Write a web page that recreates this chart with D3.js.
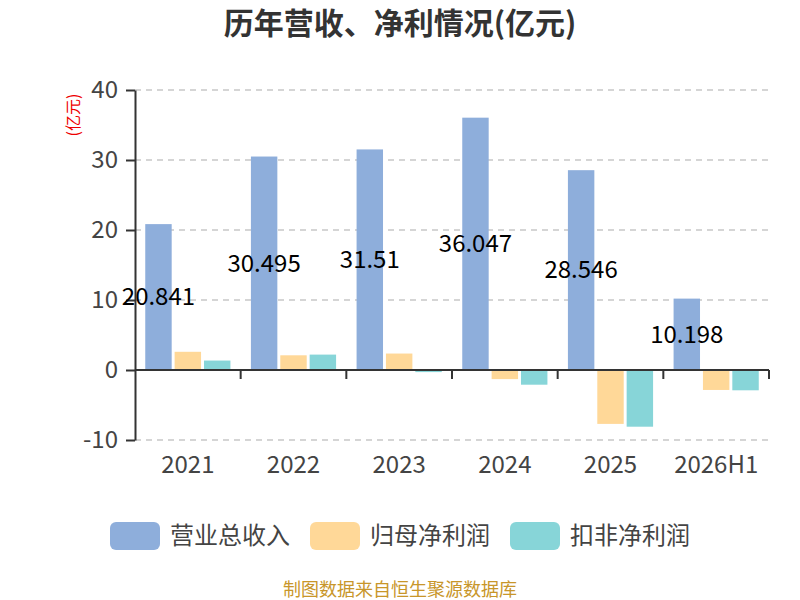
<!DOCTYPE html>
<html><head><meta charset="utf-8">
<script src="https://cdn.jsdelivr.net/npm/d3@7"></script>
<style>body{margin:0;background:#fff}svg{display:block}text{font-family:"Noto Sans CJK SC","Noto Sans",sans-serif}</style>
</head><body><svg id="c" width="800" height="600"></svg>
<script>
const categories = ["2021","2022","2023","2024","2025","2026H1"];
const seriesNames = ["营业总收入","归母净利润","扣非净利润"];
const revenue = [20.841, 30.495, 31.51, 36.047, 28.546, 10.198];
const netProfit = [2.6, 2.1, 2.35, -1.3, -7.7, -2.85];
const deductedProfit = [1.35, 2.2, -0.3, -2.1, -8.1, -2.9];
const yTicks = [-10, 0, 10, 20, 30, 40];
const colors = ["#8eaedb","#ffd898","#87d5d8"];

const svg = d3.select("#c");
const L = 135, R = 769, T = 90, B = 440;
const y = d3.scaleLinear().domain([-10, 40]).range([B, T]);
const x = d3.scaleBand().domain(categories).range([L, R]).paddingInner(0).paddingOuter(0);
const bw = x.bandwidth();
const inner = d3.scaleBand().domain(seriesNames).range([bw*0.097, bw*0.903]).paddingInner(0.1);
const numFont = "\"Noto Sans\",sans-serif";

svg.append("text").attr("x", 400).attr("y", 34).attr("text-anchor","middle")
  .attr("font-size", 30).attr("font-weight","bold").attr("fill","#333").text("历年营收、净利情况(亿元)");

// grid
svg.append("g").selectAll("line").data(yTicks.filter(d=>d!==0)).join("line")
  .attr("x1", L).attr("x2", R).attr("y1", d=>y(d)).attr("y2", d=>y(d))
  .attr("stroke","#c8c8c8").attr("stroke-width",1.5).attr("stroke-dasharray","6,5");

// y axis
const yAxis = svg.append("g").attr("transform",`translate(${L},0)`)
  .call(d3.axisLeft(y).tickValues(yTicks).tickFormat(d=>String(d)).tickSize(9).tickPadding(8).tickSizeOuter(0));
yAxis.select(".domain").attr("stroke","#333").attr("stroke-width",2);
yAxis.selectAll(".tick line").attr("stroke","#333").attr("stroke-width",2);
yAxis.selectAll(".tick text").attr("font-size",24).attr("fill","#444").attr("font-family",numFont);

svg.append("text").attr("transform","translate(73.5,115) rotate(-90)").attr("text-anchor","middle").attr("dy","0.35em")
  .attr("font-size",16).attr("fill","#e00").text("(亿元)");

// bars
const data = categories.map((c,i)=>({c, vals:[revenue[i], netProfit[i], deductedProfit[i]]}));
const g = svg.append("g");
data.forEach(d=>{
  d.vals.forEach((v,j)=>{
    g.append("rect").attr("x", x(d.c)+inner(seriesNames[j])).attr("width", inner.bandwidth())
      .attr("y", y(Math.max(0,v))).attr("height", Math.abs(y(v)-y(0)))
      .attr("fill", colors[j]);
  });
});

// x axis at zero
const xAxis = svg.append("g").attr("transform",`translate(0,${y(0)})`);
xAxis.append("line").attr("x1",L).attr("x2",R).attr("stroke","#333").attr("stroke-width",2);
const bounds = categories.map(c=>x(c)).concat([R]);
xAxis.selectAll("line.t").data(bounds.slice(1)).join("line").attr("class","t")
  .attr("x1",d=>d).attr("x2",d=>d).attr("y1",0).attr("y2",9).attr("stroke","#333").attr("stroke-width",2);
svg.append("g").selectAll("text").data(categories).join("text")
  .attr("x", d=>x(d)+bw/2).attr("y", 473).attr("text-anchor","middle")
  .attr("font-size",24).attr("fill","#444").attr("font-family",numFont).text(d=>d);

// labels
svg.append("g").selectAll("text").data(data).join("text")
  .attr("x", d=>x(d.c)+inner(seriesNames[0])+inner.bandwidth()/2)
  .attr("y", d=>(y(d.vals[0])+y(0))/2).attr("dy","0.35em").attr("text-anchor","middle")
  .attr("font-size",24).attr("fill","#000").attr("font-family",numFont).text(d=>String(d.vals[0]));

// legend
const legX = [110, 310, 510];
const leg = svg.append("g").selectAll("g").data(seriesNames).join("g")
  .attr("transform",(d,i)=>`translate(${legX[i]},522)`);
leg.append("rect").attr("width",50).attr("height",28).attr("rx",6).attr("fill",(d,i)=>colors[i]);
leg.append("text").attr("x",60).attr("y",14).attr("dy","0.35em").attr("font-size",24).attr("fill","#444").text(d=>d);

svg.append("text").attr("x",400).attr("y",596).attr("text-anchor","middle").attr("font-size",18)
  .attr("fill","#c8962a").text("制图数据来自恒生聚源数据库");
</script></body></html>
